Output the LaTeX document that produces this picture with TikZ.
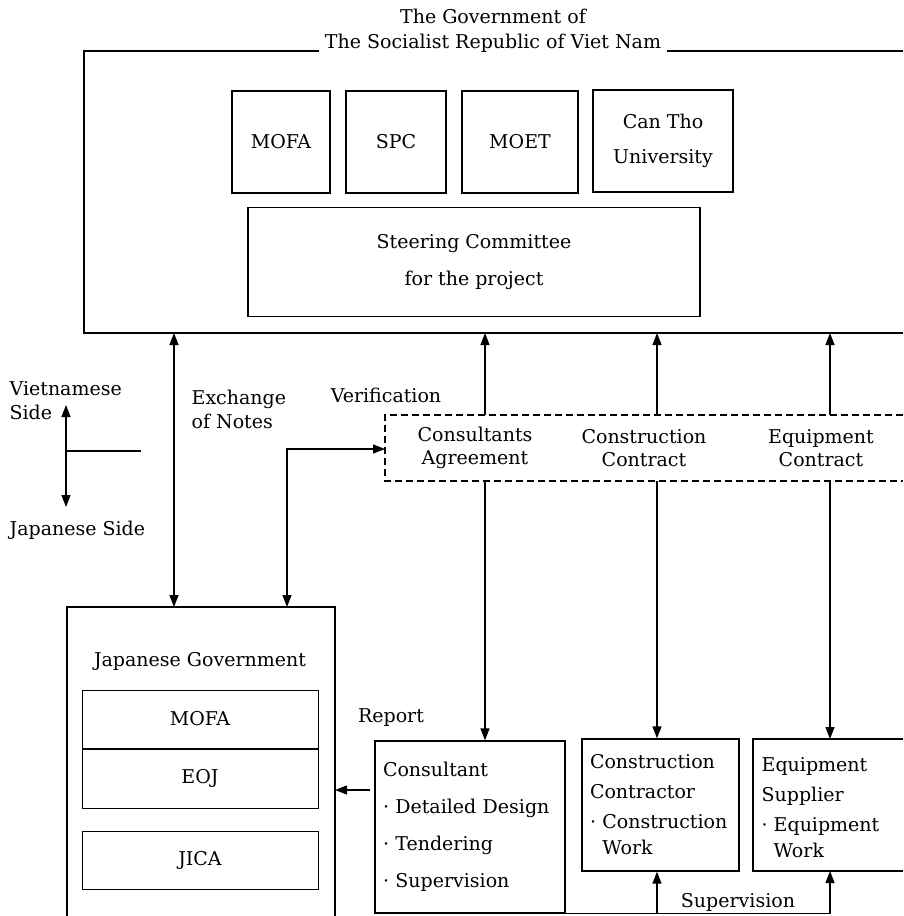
\documentclass[tikz,border=0pt]{standalone}
\usepackage{fontspec}
\setmainfont{DejaVu Serif}
\usetikzlibrary{arrows.meta}
\newcommand{\lw}{1.3pt}
\newcommand{\bul}{\textperiodcentered\ }

\begin{document}
\begin{tikzpicture}[x=1pt, y=-1pt, line width=\lw,
    font=\fontsize{19}{25}\selectfont,
    >={Triangle[length=12pt,width=9pt]},
    box/.style={draw, inner sep=0pt, align=center},
    lbl/.style={inner sep=0pt, align=left},
    dashbox/.style={dash pattern=on 7pt off 4pt}]

    \useasboundingbox (0,0) rectangle (903,916);

    % Vietnamese side
    \node[align=center, inner xsep=5pt, inner ysep=0pt] (vngov) at (493,31) {The Government of\\The Socialist Republic of Viet Nam};
    \coordinate (vntl) at (84,51);
    \coordinate (vnbl) at (84,333);
    \draw (vngov.west |- vntl) -- (vntl) -- (vnbl) -- (903,333);
    \draw (vngov.east |- vntl) -- (903,51);

    \node[box, minimum width=98pt, minimum height=102pt] (mofa) at (281,142) {MOFA};
    \node[box, minimum width=100pt, minimum height=102pt] (spc) at (396,142) {SPC};
    \node[box, minimum width=116pt, minimum height=102pt] (moet) at (520,142) {MOET};
    \node[box, minimum width=140pt, minimum height=102pt] (ctu) at (663,141) {Can Tho\\[10pt]University};
    \node[box, minimum width=452pt, minimum height=109pt] (steer) at (474,262) {Steering Committee\\[12pt]for the project};

    % contracts
    \draw[dashbox] (903,415) -- (385,415) coordinate (dtl) -- (385,481) coordinate (dbl) -- (903,481);
    \coordinate (dmid) at (385,449);
    \coordinate (col1) at (485,0);
    \coordinate (col2) at (657,0);
    \coordinate (col3) at (830,0);
    \node[align=center, inner sep=0pt] (cagr) at (475,448) {Consultants\\[-2pt]Agreement};
    \node[align=center, inner sep=0pt] (ccon) at (644,448) {Construction\\[-2pt]Contract};
    \node[align=center, inner sep=0pt] (econ) at (821,448) {Equipment\\[-2pt]Contract};

    \draw[->] (col1 |- dtl) -- (col1 |- vnbl);
    \draw[->] (col2 |- dtl) -- (col2 |- vnbl);
    \draw[->] (col3 |- dtl) -- (col3 |- vnbl);

    % Japanese side
    \draw (67,916) -- (67,607) coordinate (jptl) -- (335,607) coordinate (jptr) -- (335,916);
    \node[inner sep=0pt] (jpgov) at (200,661) {Japanese Government};
    \node[box, line width=1pt, minimum width=236pt, minimum height=58pt] (jmofa) at (200,719) {MOFA};
    \node[box, line width=1pt, minimum width=236pt, minimum height=59pt, anchor=north] (eoj) at (jmofa.south) {EOJ};
    \node[box, line width=1pt, minimum width=236pt, minimum height=58pt] (jica) at (200,860) {JICA};

    % exchange and verification
    \coordinate (exch) at (174,0);
    \coordinate (verx) at (287,0);
    \draw[<->] (exch |- jptl) -- (exch |- vnbl);
    \node[lbl, anchor=west] (exlbl) at (191,409) {Exchange\\[-1pt]of Notes};
    \node[inner sep=0pt] (verlbl) at (386,395) {Verification};
    \draw[<->] (verx |- jptl) |- (dmid);

    % legend
    \node[lbl, anchor=west] (vnside) at (9,401) {Vietnamese\\[-1pt]Side};
    \node[lbl, anchor=west] (jpside) at (9,530) {Japanese Side};
    \coordinate (lgtop) at (66,405);
    \coordinate (lgbot) at (66,507);
    \draw[<->] (lgtop) -- (lgbot);
    \draw (66,451) -- (141,451);

    % contractors
    \node[box, align=left, inner xsep=8pt, text width=174pt, minimum height=172pt] (cons) at (470,827)
        {Consultant\\[12pt]\bul Detailed Design\\[12pt]\bul Tendering\\[12pt]\bul Supervision};
    \node[box, align=left, inner xsep=8pt, text width=141pt, minimum height=132pt] (csc) at (660.5,805)
        {Construction\\[5pt]Contractor\\[5pt]\bul Construction\\[1pt]\phantom{\bul}Work};
    \draw (903,739) -- (753,739) coordinate (eqtl) -- (753,871) coordinate (eqbl) -- (903,871);
    \node[lbl, anchor=west] (eqsup) at (761,808)
        {Equipment\\[5pt]Supplier\\[5pt]\bul Equipment\\[1pt]\phantom{\bul}Work};

    \draw[->] (col1 |- dbl) -- (col1 |- cons.north);
    \draw[->] (col2 |- dbl) -- (col2 |- csc.north);
    \draw[->] (col3 |- dbl) -- (col3 |- eqtl);

    % report and supervision
    \coordinate (rep) at (370,790);
    \draw[->] (rep) -- (jptr |- rep);
    \node[inner sep=0pt] (replbl) at (391,718) {Report};
    \draw (cons.south east) -- (col3 |- cons.south);
    \draw[->] (col2 |- cons.south) -- (col2 |- csc.south);
    \draw[->] (col3 |- cons.south) -- (col3 |- eqbl);
    \node[inner sep=0pt] (suplbl) at (738,902) {Supervision};

\end{tikzpicture}
\end{document}
